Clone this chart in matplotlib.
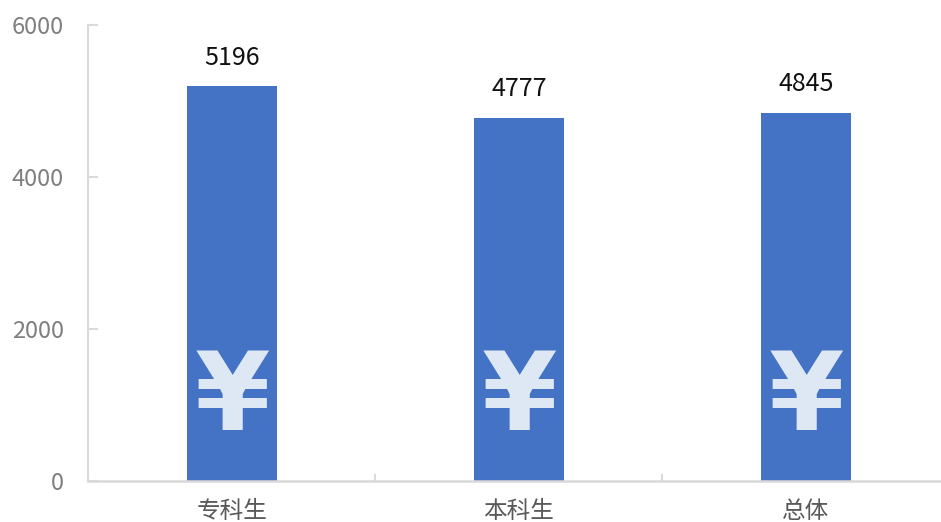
import matplotlib.pyplot as plt

plt.rcParams['font.family'] = ['Noto Sans CJK SC', 'DejaVu Sans']

categories = ['专科生', '本科生', '总体']
values = [5196, 4777, 4845]
y_ticks = [0, 2000, 4000, 6000]

fig = plt.figure(figsize=(9.41, 5.22), dpi=100)
ax = fig.add_axes([88 / 941, 1 - 481 / 522, (941 - 88) / 941, (481 - 25) / 522])

x = range(len(categories))
ax.bar(x, values, width=0.314, color='#4472C4')

for i, v in enumerate(values):
    ax.text(i, v + 205, str(v), ha='center', va='bottom', fontsize=18, color='#111111')
    # yen sign on each bar
    ax.text(i + 0.001, 1060, '¥', ha='center', va='center', fontsize=78, color='#DEE8F5',
            fontweight='bold', family='DejaVu Sans')

ax.set_xlim(-0.5, 2.47)
ax.set_ylim(0, 6000)
ax.set_yticks(y_ticks)
ax.set_xticks(list(x))
ax.set_xticklabels(categories)
ax.tick_params(axis='y', direction='in', labelsize=17, labelcolor='#7F7F7F', color='#D9D9D9',
               length=7, width=1.5, pad=17.5)
ax.tick_params(axis='x', labelsize=17, labelcolor='#595959', length=0, pad=14)

# small ticks between the categories
for b in [0.5, 1.5]:
    ax.plot([b, b], [0, 80], color='#D9D9D9', lw=1.5)

ax.spines['top'].set_visible(False)
ax.spines['right'].set_visible(False)
ax.spines['left'].set_color('#D9D9D9')
ax.spines['bottom'].set_color('#D9D9D9')
ax.spines['left'].set_linewidth(1.5)
ax.spines['bottom'].set_linewidth(1.8)

plt.savefig('out.png', dpi=100)
